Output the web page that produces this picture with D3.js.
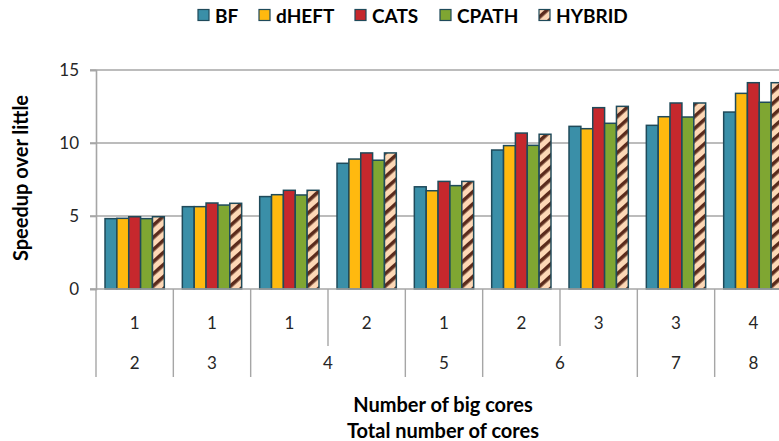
<!DOCTYPE html>
<html>
<head>
<meta charset="utf-8">
<script src="https://cdn.jsdelivr.net/npm/d3@7"></script>
<style>
  html, body { margin: 0; padding: 0; background: #fff; }
  svg { display: block; font-family: Lato, "Open Sans", sans-serif; }
</style>
</head>
<body>
<svg id="chart" width="779" height="441"></svg>
<script>
// Speedup over little cores, grouped by core configuration
const bigCores   = ["1", "1", "1", "2", "1", "2", "3", "3", "4"];
const totalCores = ["2", "3", "4", "4", "5", "6", "6", "7", "8"];
const seriesNames = ["BF", "dHEFT", "CATS", "CPATH", "HYBRID"];
const bf     = [4.82, 5.64, 6.33, 8.61, 7.00, 9.52, 11.14, 11.21, 12.12];
const dheft  = [4.84, 5.64, 6.46, 8.90, 6.73, 9.82, 10.98, 11.80, 13.40];
const cats   = [4.95, 5.89, 6.76, 9.32, 7.37, 10.68, 12.42, 12.74, 14.13];
const cpath  = [4.82, 5.75, 6.44, 8.82, 7.08, 9.84, 11.35, 11.78, 12.79];
const hybrid = [4.95, 5.87, 6.76, 9.32, 7.37, 10.60, 12.51, 12.74, 14.13];
const yTicks = [0, 5, 10, 15];

const seriesValues = [bf, dheft, cats, cpath, hybrid];
const colors = ["#3A8FA8", "#FFB90F", "#C6282D", "#7FA632", "url(#hybridStripes)"];

const svg = d3.select("#chart");
const plotLeft = 96, plotRight = 792, plotTop = 70, plotBottom = 289;

// striped fill for HYBRID
const defs = svg.append("defs");
const pat = defs.append("pattern")
  .attr("id", "hybridStripes")
  .attr("patternUnits", "userSpaceOnUse")
  .attr("width", 9).attr("height", 9)
  .attr("patternTransform", "rotate(-42)");
pat.append("rect").attr("width", 9).attr("height", 9).attr("fill", "#FDD8B6");
pat.append("rect").attr("width", 9).attr("height", 3.6).attr("fill", "#5B2B1C");

const idx = d3.range(bigCores.length);
const x0 = d3.scaleBand().domain(idx).range([plotLeft, plotRight])
  .paddingInner(0.233).paddingOuter(0.1165);
const x1 = d3.scaleBand().domain(d3.range(seriesNames.length)).range([0, x0.bandwidth()]);
const y = d3.scaleLinear().domain([0, 15]).range([plotBottom, plotTop]);
const step = x0.step();
const boundary = i => plotLeft + i * step;

// gridlines
svg.append("g").selectAll("line").data(yTicks.filter(d => d > 0)).join("line")
  .attr("x1", plotLeft - 6).attr("x2", plotRight)
  .attr("y1", d => y(d)).attr("y2", d => y(d))
  .attr("stroke", "#A6A6A6").attr("stroke-width", 1.6);

// y axis
const yAxis = svg.append("g").attr("transform", `translate(${plotLeft},0)`)
  .call(d3.axisLeft(y).tickValues(yTicks).tickSize(6).tickPadding(11));
yAxis.select(".domain").attr("stroke", "#A6A6A6").attr("stroke-width", 1.6);
yAxis.selectAll(".tick line").attr("stroke", "#A6A6A6").attr("stroke-width", 1.6);
yAxis.selectAll(".tick text").attr("font-size", 17).attr("fill", "#262626")
  .attr("font-family", "Lato, sans-serif");

// bars
const groups = svg.append("g").selectAll("g").data(idx).join("g")
  .attr("transform", i => `translate(${x0(i)},0)`);
groups.selectAll("rect")
  .data(i => seriesValues.map((vals, s) => ({ s, v: vals[i] })))
  .join("rect")
  .attr("x", d => x1(d.s)).attr("width", x1.bandwidth())
  .attr("y", d => y(d.v)).attr("height", d => y(0) - y(d.v))
  .attr("fill", d => colors[d.s])
  .attr("stroke", "#1F4A5A").attr("stroke-width", 1.5);

// x axis line
svg.append("line").attr("x1", plotLeft - 6).attr("x2", plotRight)
  .attr("y1", plotBottom).attr("y2", plotBottom)
  .attr("stroke", "#A6A6A6").attr("stroke-width", 1.6);

// category separators: full length between total-core groups, short inside a group
const sep = svg.append("g").attr("stroke", "#A6A6A6").attr("stroke-width", 1.4);
d3.range(bigCores.length + 1).forEach(i => {
  const sameGroup = i > 0 && i < totalCores.length && totalCores[i] === totalCores[i - 1];
  sep.append("line")
    .attr("x1", boundary(i)).attr("x2", boundary(i))
    .attr("y1", plotBottom).attr("y2", sameGroup ? 346 : 377);
});

// first row: big cores
svg.append("g").selectAll("text").data(idx).join("text")
  .attr("x", i => boundary(i) + step / 2).attr("y", 322)
  .attr("text-anchor", "middle").attr("dominant-baseline", "central")
  .attr("font-size", 17).attr("fill", "#262626")
  .text(i => bigCores[i]);

// second row: total cores, merged over equal neighbours
const spans = [];
idx.forEach(i => {
  const last = spans[spans.length - 1];
  if (last && last.label === totalCores[i]) last.end = i + 1;
  else spans.push({ label: totalCores[i], start: i, end: i + 1 });
});
svg.append("g").selectAll("text").data(spans).join("text")
  .attr("x", d => (boundary(d.start) + boundary(d.end)) / 2).attr("y", 362)
  .attr("text-anchor", "middle").attr("dominant-baseline", "central")
  .attr("font-size", 17).attr("fill", "#262626")
  .text(d => d.label);

// axis titles
const titleSize = 20;
svg.append("text").attr("x", 443).attr("y", 404)
  .attr("text-anchor", "middle").attr("dominant-baseline", "central")
  .attr("font-size", titleSize).attr("font-weight", "bold").attr("fill", "#000")
  .text("Number of big cores");
svg.append("text").attr("x", 443).attr("y", 430)
  .attr("text-anchor", "middle").attr("dominant-baseline", "central")
  .attr("font-size", titleSize).attr("font-weight", "bold").attr("fill", "#000")
  .text("Total number of cores");
svg.append("text")
  .attr("transform", "translate(20,178) rotate(-90)")
  .attr("text-anchor", "middle").attr("dominant-baseline", "central")
  .attr("font-size", titleSize).attr("font-weight", "bold").attr("fill", "#000")
  .text("Speedup over little");

// legend
const legendX = [198, 259, 355, 440, 539];
const legend = svg.append("g").selectAll("g").data(seriesNames).join("g")
  .attr("transform", (d, i) => `translate(${legendX[i]},15)`);
legend.append("rect").attr("x", 0).attr("y", -5.5).attr("width", 11).attr("height", 11)
  .attr("fill", (d, i) => colors[i]).attr("stroke", "#1F4A5A").attr("stroke-width", 1.2);
legend.append("text").attr("x", 17).attr("y", 0)
  .attr("dominant-baseline", "central")
  .attr("font-size", 19).attr("font-weight", "bold").attr("fill", "#000")
  .text(d => d);
</script>
</body>
</html>
